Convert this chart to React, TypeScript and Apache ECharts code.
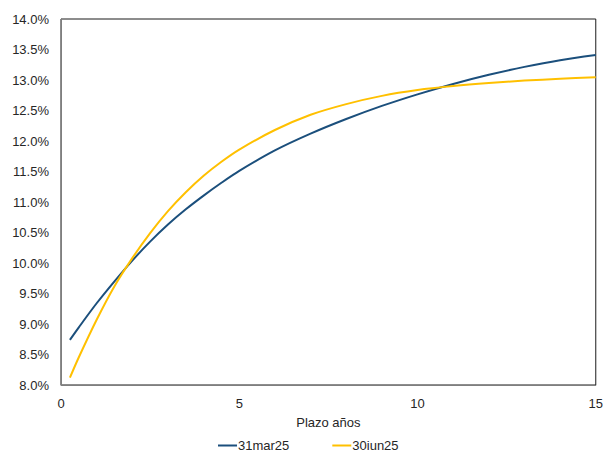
import React, { useEffect, useRef } from "react";
import * as echarts from "echarts";

const terms = [0.25, 0.5, 1, 1.5, 2, 2.5, 3, 3.5, 4, 4.5, 5, 6, 7, 8, 9, 10, 11, 12, 13, 14, 15];
const mar25 = [8.74, 8.946, 9.34, 9.7, 10.04, 10.35, 10.63, 10.88, 11.105, 11.315, 11.51, 11.845, 12.12, 12.36, 12.575, 12.765, 12.935, 13.085, 13.215, 13.325, 13.41];
const jun25 = [8.12, 8.455, 9.07, 9.62, 10.08, 10.49, 10.85, 11.16, 11.43, 11.66, 11.86, 12.18, 12.43, 12.605, 12.74, 12.835, 12.9, 12.95, 12.99, 13.02, 13.045];
const seriesNames = ["31mar25", "30iun25"];
const xTitle = "Plazo años";

export default function App() {
  const ref = useRef<HTMLDivElement>(null);
  useEffect(() => {
    if (!ref.current) return;
    const chart = echarts.init(ref.current, null, { renderer: "svg" });
    const font = "'Liberation Sans', Arial, sans-serif";
    chart.setOption({
      animation: false,
      textStyle: { fontFamily: font },
      grid: {
        left: 61,
        right: 8,
        top: 19,
        bottom: 68,
        show: true,
        borderColor: "#1a1a1a",
        borderWidth: 1,
        containLabel: false,
      },
      legend: {
        left: 218,
        top: 439,
        padding: 0,
        icon: "rect",
        itemWidth: 19,
        itemHeight: 2,
        itemGap: 43,
        textStyle: { fontSize: 13, color: "#262626", fontFamily: font, padding: [0, 0, 0, -4] },
        data: seriesNames,
      },
      xAxis: {
        type: "value",
        min: 0,
        max: 15,
        interval: 5,
        name: xTitle,
        nameLocation: "middle",
        nameGap: 31,
        nameTextStyle: { fontSize: 13, color: "#262626", fontFamily: font },
        axisLine: { show: true, lineStyle: { color: "#7f7f7f", width: 1 } },
        axisTick: { show: false },
        axisLabel: { fontSize: 13, color: "#262626", margin: 12, fontFamily: font },
        splitLine: { show: false },
      },
      yAxis: {
        type: "value",
        min: 8,
        max: 14,
        interval: 0.5,
        axisLine: { show: true, lineStyle: { color: "#7f7f7f", width: 1 } },
        axisTick: { show: false },
        axisLabel: {
          fontSize: 13,
          color: "#262626",
          margin: 12,
          fontFamily: font,
          formatter: (v: number) => v.toFixed(1) + "%",
        },
        splitLine: { show: false },
      },
      series: [
        {
          name: seriesNames[0],
          type: "line",
          smooth: 0.3,
          symbol: "none",
          data: terms.map((t, i) => [t, mar25[i]]),
          lineStyle: { color: "#1b4f7c", width: 2 },
          itemStyle: { color: "#1b4f7c" },
        },
        {
          name: seriesNames[1],
          type: "line",
          smooth: 0.3,
          symbol: "none",
          data: terms.map((t, i) => [t, jun25[i]]),
          lineStyle: { color: "#ffc000", width: 2 },
          itemStyle: { color: "#ffc000" },
        },
      ],
    });
    return () => chart.dispose();
  }, []);
  return <div ref={ref} style={{ width: 606, height: 453, position: "absolute", left: 0, top: 0 }} />;
}
